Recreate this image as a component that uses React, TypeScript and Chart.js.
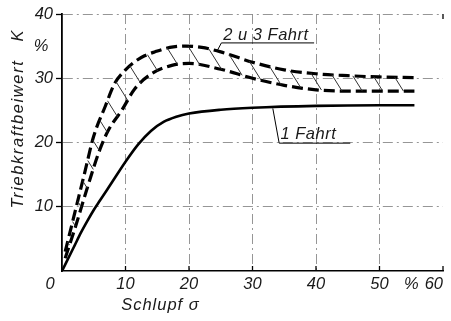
import React, { useEffect, useRef } from 'react';
import { Chart, registerables } from 'chart.js';
Chart.register(...registerables);

// "1 Fahrt" (solid)
const solidX = [0, 1, 2, 3, 4, 5, 6, 8, 10, 12, 14, 16, 18, 20, 25, 30, 40, 50, 55.5];
const solidY = [0, 2, 4, 6, 7.8, 9.5, 11, 14, 17, 19.7, 21.8, 23.2, 24, 24.5, 25.1, 25.4, 25.7, 25.8, 25.8];
// "2 u 3 Fahrt" upper boundary (dashed)
const upperX = [0.5, 2, 3.5, 5, 6.8, 8.3, 10, 11.5, 13, 14.6, 17, 19.5, 22, 25, 30, 35, 40, 45, 50, 55.5];
const upperY = [3, 9, 15, 21, 25.6, 29.2, 31.3, 32.6, 33.5, 34.1, 34.8, 35, 34.8, 34.1, 32.5, 31.3, 30.7, 30.4, 30.2, 30.1];
// "2 u 3 Fahrt" lower boundary (dashed)
const lowerX = [0.5, 2, 4, 6, 7.3, 9.4, 11.5, 14.1, 17.3, 20, 25, 30, 35, 40, 45, 50, 55.5];
const lowerY = [2, 6.5, 13, 19, 21.9, 25, 28.4, 30.7, 32, 32.3, 31.4, 30, 28.9, 28.2, 28, 28, 28];

const xTickValues = [0, 10, 20, 30, 40, 50, 60];
const yTickValues = [0, 10, 20, 30, 40];
const labelUpper = '2 u 3 Fahrt';
const labelSolid = '1 Fahrt';
const xTitle = 'Schlupf σ';
const yTitleMain = 'Triebkraftbeiwert';
const yTitleSymbol = 'K';
const unitLabel = '%';

const FONT_FAMILY = '"Liberation Sans", "DejaVu Sans", sans-serif';
const TEXT_COLOR = '#1a1a1a';
const FONT_SIZE = 16.5;

function toPts(xs: number[], ys: number[]) {
  return xs.map((x, i) => ({ x, y: ys[i] }));
}

function rayHit(s: any, d: any, poly: any[]) {
  let best: number | null = null;
  for (let k = 0; k < poly.length - 1; k++) {
    const a = poly[k], b = poly[k + 1];
    const ex = b.x - a.x, ey = b.y - a.y;
    const den = d.x * ey - d.y * ex;
    if (Math.abs(den) < 1e-9) continue;
    const wx = a.x - s.x, wy = a.y - s.y;
    const t = (wx * ey - wy * ex) / den;
    const u = (wx * d.y - wy * d.x) / den;
    if (t > 0 && u >= 0 && u <= 1 && (best === null || t < best)) best = t;
  }
  return best;
}

const decorPlugin = {
  id: 'decor',
  afterDatasetsDraw(chart: any) {
    const ctx = chart.ctx;
    const xs = chart.scales.x;
    const ys = chart.scales.y;
    const area = chart.chartArea;
    ctx.save();

    // hatching between the two dashed curves
    const up = chart.getDatasetMeta(1).data.map((p: any) => ({ x: p.x, y: p.y }));
    const lo = chart.getDatasetMeta(2).data.map((p: any) => ({ x: p.x, y: p.y }));
    const dl = Math.hypot(1, 1.6);
    const dir = { x: 1 / dl, y: 1.6 / dl };
    ctx.strokeStyle = '#333';
    ctx.lineWidth = 1;
    ctx.setLineDash([]);
    const step = 21;
    let next = 10;
    let acc = 0;
    for (let k = 0; k < up.length - 1; k++) {
      const a = up[k], b = up[k + 1];
      const len = Math.hypot(b.x - a.x, b.y - a.y);
      while (next <= acc + len) {
        const f = (next - acc) / len;
        const s = { x: a.x + (b.x - a.x) * f, y: a.y + (b.y - a.y) * f };
        const t = rayHit(s, dir, lo);
        if (t !== null && t < 45) {
          ctx.beginPath();
          ctx.moveTo(s.x, s.y);
          ctx.lineTo(s.x + dir.x * t, s.y + dir.y * t);
          ctx.stroke();
        }
        next += step;
      }
      acc += len;
    }

    // x ticks pointing inward
    ctx.strokeStyle = '#000';
    ctx.lineWidth = 1.3;
    xTickValues.forEach((v) => {
      if (v === 0) return;
      const px = xs.getPixelForValue(v);
      ctx.beginPath();
      ctx.moveTo(px, area.bottom);
      ctx.lineTo(px, area.bottom - 5);
      ctx.stroke();
    });
    // small tick at top right corner
    const pr = xs.getPixelForValue(60);
    ctx.beginPath();
    ctx.moveTo(pr, area.top);
    ctx.lineTo(pr, area.top + 5);
    ctx.stroke();

    // texts
    ctx.fillStyle = TEXT_COLOR;
    ctx.font = `italic ${FONT_SIZE}px ${FONT_FAMILY}`;
    ctx.textBaseline = 'middle';
    ctx.textAlign = 'center';
    ctx.fillText('0', xs.getPixelForValue(0) - 12, area.bottom + 13);
    ctx.fillText(unitLabel, xs.getPixelForValue(55), area.bottom + 13);
    ctx.fillText(unitLabel, xs.getPixelForValue(0) - 21, ys.getPixelForValue(35));
    ctx.save();
    (ctx as any).letterSpacing = '1px';
    ctx.fillText(xTitle, xs.getPixelForValue(15.5), area.bottom + 34);
    ctx.restore();

    ctx.save();
    ctx.translate(18, 134);
    ctx.rotate(-Math.PI / 2);
    (ctx as any).letterSpacing = '1.6px';
    ctx.fillText(yTitleMain, 0, 0);
    ctx.restore();
    ctx.save();
    ctx.translate(18, 36);
    ctx.rotate(-Math.PI / 2);
    ctx.fillText(yTitleSymbol, 0, 0);
    ctx.restore();

    // annotation texts
    ctx.textAlign = 'left';
    ctx.textBaseline = 'alphabetic';
    ctx.save();
    (ctx as any).letterSpacing = '0.5px';
    ctx.fillText(labelUpper, xs.getPixelForValue(25.4), ys.getPixelForValue(35.9));
    ctx.fillText(labelSolid, xs.getPixelForValue(34.4), ys.getPixelForValue(20.5));
    ctx.restore();
    ctx.lineWidth = 1;
    // leader for "2 u 3 Fahrt"
    ctx.beginPath();
    ctx.moveTo(xs.getPixelForValue(39.7), ys.getPixelForValue(35.5));
    ctx.lineTo(xs.getPixelForValue(25.1), ys.getPixelForValue(35.5));
    ctx.lineTo(xs.getPixelForValue(24.4), ys.getPixelForValue(34.2));
    ctx.stroke();
    // leader for "1 Fahrt"
    ctx.beginPath();
    ctx.moveTo(xs.getPixelForValue(45.4), ys.getPixelForValue(19.9));
    ctx.lineTo(xs.getPixelForValue(34.2), ys.getPixelForValue(19.9));
    ctx.lineTo(xs.getPixelForValue(33.2), ys.getPixelForValue(25.3));
    ctx.stroke();

    ctx.restore();
  },
};

export default function App() {
  const ref = useRef<HTMLCanvasElement | null>(null);
  useEffect(() => {
    if (!ref.current) return;
    const gridColor = (c: any) => {
      const v = c.tick ? c.tick.value : null;
      return v === 0 || v === 60 ? 'rgba(0,0,0,0)' : '#8a8a8a';
    };
    const lineDs = (xs: number[], ys: number[], dashed: boolean) => ({
      data: toPts(xs, ys),
      borderColor: '#000',
      borderWidth: dashed ? 3.2 : 2.6,
      borderDash: dashed ? [11, 5] : [],
      pointRadius: 0,
      cubicInterpolationMode: 'monotone',
      fill: false,
    });
    const tickFont = { family: FONT_FAMILY, style: 'italic', size: FONT_SIZE };
    const chart = new Chart(ref.current, {
      type: 'line',
      data: {
        datasets: [
          lineDs(solidX, solidY, false),
          lineDs(upperX, upperY, true),
          lineDs(lowerX, lowerY, true),
        ],
      },
      options: {
        animation: false,
        responsive: false,
        devicePixelRatio: 1,
        layout: { padding: { top: 14, right: 0, left: 0, bottom: 0 } },
        plugins: { legend: { display: false }, tooltip: { enabled: false } },
        scales: {
          x: {
            type: 'linear',
            min: 0,
            max: 60,
            afterFit: (s: any) => { s.height = 50; s.paddingRight = 8; },
            afterBuildTicks: (s: any) => { s.ticks = xTickValues.map((v) => ({ value: v })); },
            ticks: {
              callback: (v: any) => (v === 0 ? '' : String(v)),
              color: TEXT_COLOR,
              padding: 4,
              maxRotation: 0,
              align: 'inner',
              font: tickFont,
            },
            grid: {
              color: gridColor,
              lineWidth: 0.9,
              drawTicks: false,
            },
            border: { display: true, color: '#000', width: 1.6, dash: [10, 4, 2, 4] },
          },
          y: {
            type: 'linear',
            min: 0,
            max: 40,
            afterFit: (s: any) => { s.width = 62; },
            afterBuildTicks: (s: any) => { s.ticks = yTickValues.map((v) => ({ value: v })); },
            ticks: {
              callback: (v: any) => (v === 0 ? '' : String(v)),
              color: TEXT_COLOR,
              padding: 3,
              font: tickFont,
            },
            grid: {
              color: gridColor,
              lineWidth: 0.9,
              drawTicks: true,
              tickLength: 6,
              tickColor: (c: any) => (c.tick && c.tick.value === 0 ? 'rgba(0,0,0,0)' : '#000'),
              tickWidth: 1.3,
              tickBorderDash: [],
            },
            border: { display: true, color: '#000', width: 1.8, dash: [10, 4, 2, 4] },
          },
        },
      },
      plugins: [decorPlugin],
    } as any);
    return () => chart.destroy();
  }, []);
  return (
    <div style={{ position: 'absolute', left: 0, top: 0, width: 451, height: 321, background: '#fff' }}>
      <canvas ref={ref} width={451} height={321} style={{ width: 451, height: 321 }} />
    </div>
  );
}
